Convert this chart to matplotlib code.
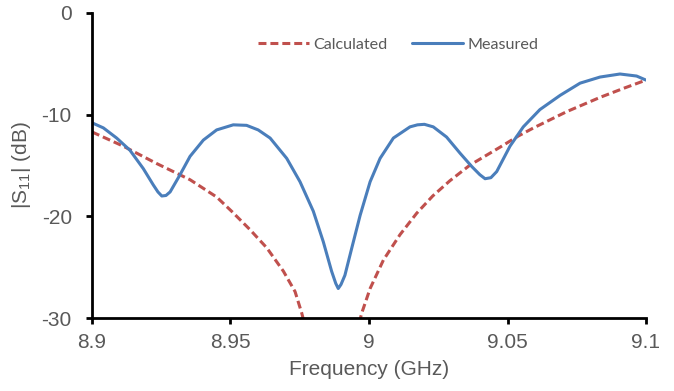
import numpy as np
import matplotlib
matplotlib.use("Agg")
import matplotlib.pyplot as plt

plt.rcParams['font.family'] = ['Liberation Sans', 'DejaVu Sans']
plt.rcParams['mathtext.default'] = 'regular'
plt.rcParams['axes.unicode_minus'] = False

# measured |S11|
f_meas = [8.900, 8.9041, 8.9089, 8.9137, 8.9185, 8.9221, 8.9238, 8.9252, 8.9267, 8.9282,
          8.9318, 8.9354, 8.9402, 8.945, 8.951, 8.9558, 8.9600, 8.9643, 8.9703, 8.9751,
          8.9799, 8.9835, 8.9865, 8.9880, 8.9889, 8.9899, 8.9913, 8.9938, 8.9968, 9.0004,
          9.004, 9.0088, 9.0148, 9.0175, 9.0200, 9.0232, 9.028, 9.0329, 9.0371, 9.0400,
          9.0419, 9.0440, 9.0461, 9.0509, 9.0557, 9.0617, 9.069, 9.0762, 9.0834, 9.0906,
          9.0966, 9.100]
s_meas = [-10.8, -11.3, -12.3, -13.5, -15.3, -16.9, -17.6, -18.0, -17.95, -17.6,
          -15.9, -14.1, -12.5, -11.5, -11.0, -11.05, -11.5, -12.3, -14.3, -16.6,
          -19.5, -22.5, -25.4, -26.6, -27.1, -26.7, -25.8, -23.1, -19.9, -16.6,
          -14.3, -12.3, -11.2, -11.0, -10.95, -11.2, -12.2, -13.8, -15.1, -15.9,
          -16.3, -16.2, -15.6, -13.1, -11.2, -9.5, -8.1, -6.9, -6.3, -6.0,
          -6.2, -6.6]

# calculated |S11| (dips below the -30 dB axis limit)
f_calc = [8.900, 8.9113, 8.9233, 8.9354, 8.945, 8.9504, 8.957, 8.9631, 8.9691, 8.9733,
          8.9757, 8.979, 8.987, 8.994, 8.9974, 9.0004, 9.0052, 9.0112, 9.0172, 9.023,
          9.0292, 9.0365, 9.0473, 9.0539, 9.0594, 9.0714, 9.0834, 9.092, 9.100]
s_calc = [-11.7, -13.1, -14.8, -16.4, -18.1, -19.5, -21.3, -23.1, -25.4, -27.4,
          -29.5, -33.0, -40.0, -33.0, -29.5, -27.1, -24.3, -21.8, -19.7, -18.0,
          -16.5, -14.95, -13.2, -12.1, -11.3, -9.7, -8.3, -7.4, -6.6]

gray = '#595959'

fig = plt.figure(figsize=(6.74, 3.91), dpi=100)
ax = fig.add_axes([92/674, 1-318/391, (646-92)/674, (318-13)/391])

ax.plot(f_calc, s_calc, color='#C0504D', lw=2.2, dashes=(2.6, 1.3), label='Calculated')
ax.plot(f_meas, s_meas, color='#4A7EBB', lw=2.2, solid_joinstyle='round',
        solid_capstyle='round', label='Measured')

ax.set_xlim(8.9, 9.1)
ax.set_ylim(-30, 0)
ax.set_xticks([8.9, 8.95, 9.0, 9.05, 9.1])
ax.set_xticklabels(['8.9', '8.95', '9', '9.05', '9.1'])
ax.set_yticks([-30, -20, -10, 0])

for s in ['top', 'right']:
    ax.spines[s].set_visible(False)
for s in ['left', 'bottom']:
    ax.spines[s].set_linewidth(2.0)
    ax.spines[s].set_color('black')
ax.tick_params(axis='both', direction='out', length=4.5, width=2.0, color='black',
               labelsize=15, labelcolor=gray)
ax.tick_params(axis='y', pad=10)
ax.tick_params(axis='x', pad=6)

ax.set_xlabel('Frequency (GHz)', fontsize=15, color=gray, labelpad=6)
ax.set_ylabel('|S$_{11}$| (dB)', fontsize=15, color=gray, labelpad=6)

leg = fig.legend(loc='center', bbox_to_anchor=(398/674, 1-45/391), ncol=2, frameon=False,
                 handlelength=3.2, columnspacing=1.5, handletextpad=0.25,
                 prop={'family': 'Lato', 'size': 11.6})
for t in leg.get_texts():
    t.set_color(gray)

fig.savefig('out.png', dpi=100)
